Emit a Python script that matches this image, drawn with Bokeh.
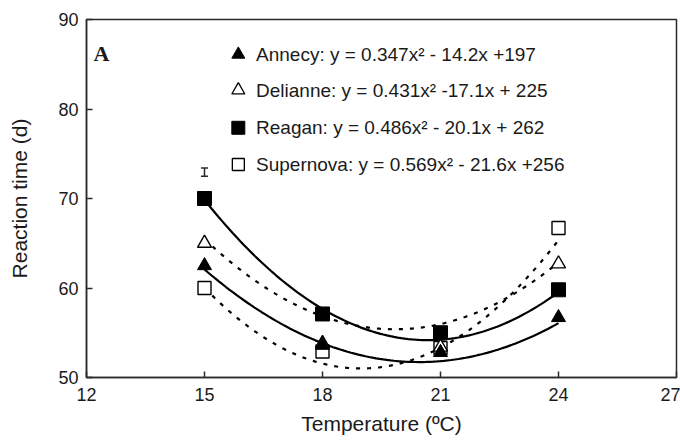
import numpy as np
from bokeh.plotting import figure
from bokeh.models import Range1d, FixedTicker
from bokeh.core.properties import value
from bokeh.embed import file_html
from bokeh.resources import INLINE

# Temperatures (ºC) and reaction times (d) for four cultivars
temps = [15, 18, 21, 24]
annecy = [62.5, 53.6, 52.8, 56.7]
delianne = [65.0, 53.8, 53.4, 62.7]
reagan = [70.0, 57.1, 55.0, 59.8]
supernova = [60.0, 52.9, 53.3, 66.7]

# Quadratic fit coefficients (a, b, c) for y = a*x^2 + b*x + c
fit_annecy = (0.347, -14.2, 197)
fit_delianne = (0.431, -17.1, 225)
fit_reagan = (0.486, -20.1, 262)
fit_supernova = (0.569, -21.6, 256)

legend_labels = [
    "Annecy: y = 0.347x² - 14.2x +197",
    "Delianne: y = 0.431x² -17.1x + 225",
    "Reagan: y = 0.486x² - 20.1x + 262",
    "Supernova: y = 0.569x² - 21.6x +256",
]

# Representative error bar
err_x = [15]
err_lo = [72.5]
err_hi = [73.4]

x_ticks = [12, 15, 18, 21, 24, 27]
y_ticks = [50, 60, 70, 80, 90]

FONT = "Liberation Sans"
INK = "#1a1a1a"
EDGE = "#2a2a2a"

p = figure(width=680, height=441, output_backend="svg", toolbar_location=None,
           x_range=Range1d(12, 27), y_range=Range1d(50, 90),
           min_border_left=86, min_border_right=4, min_border_top=19,
           min_border_bottom=64)
p.grid.visible = False
p.outline_line_color = EDGE
p.outline_line_width = 1.5
p.background_fill_color = "white"
p.border_fill_color = "white"

for ax in (p.xaxis[0], p.yaxis[0]):
    ax.axis_line_color = EDGE
    ax.axis_line_width = 1.5
    ax.major_tick_in = 6
    ax.major_tick_out = 0
    ax.major_tick_line_color = EDGE
    ax.major_tick_line_width = 1.5
    ax.minor_tick_line_color = None
    ax.major_label_text_font = FONT
    ax.major_label_text_font_size = "18px"
    ax.major_label_text_color = INK
    ax.axis_label_text_font = FONT
    ax.axis_label_text_font_size = "21px"
    ax.axis_label_text_font_style = "normal"
    ax.axis_label_text_color = INK

p.xaxis.ticker = FixedTicker(ticks=x_ticks)
p.yaxis.ticker = FixedTicker(ticks=y_ticks)
p.xaxis.axis_label = "Temperature (ºC)"
p.yaxis.axis_label = "Reaction time (d)"
p.xaxis.major_label_standoff = 10
p.yaxis.major_label_standoff = 8
p.xaxis.axis_label_standoff = 8
p.yaxis.axis_label_standoff = 24

# Fitted curves
xs = np.linspace(15, 24, 100)
curves = [
    (fit_annecy, "solid"),
    (fit_delianne, "4 7"),
    (fit_reagan, "solid"),
    (fit_supernova, "4 7"),
]
for (a, b, c), dash in curves:
    p.line(xs, a * xs ** 2 + b * xs + c, line_color="black", line_width=2.2,
           line_dash=dash)

# Data markers
p.scatter(temps, supernova, marker="square", size=13, fill_color="white",
          line_color="black", line_width=1.4)
p.scatter(temps, delianne, marker="triangle", size=14, fill_color="white",
          line_color="black", line_width=1.4)
p.scatter(temps, reagan, marker="square", size=14, fill_color="black",
          line_color="black")
p.scatter(temps, annecy, marker="triangle", size=14, fill_color="black",
          line_color="black")

# Error bar with flat caps
p.segment(x0=err_x, x1=err_x, y0=err_lo, y1=err_hi, line_color=EDGE,
          line_width=1.5)
cap_half = 0.09
p.segment(x0=[err_x[0] - cap_half] * 2, x1=[err_x[0] + cap_half] * 2,
          y0=err_lo + err_hi, y1=err_lo + err_hi, line_color=EDGE,
          line_width=1.5)

# Legend with equations
leg_x = 15.86
leg_y = [86.1, 82.1, 77.9, 73.8]
p.scatter([leg_x], [leg_y[0]], marker="triangle", size=13, fill_color="black",
          line_color="black")
p.scatter([leg_x], [leg_y[1]], marker="triangle", size=13, fill_color="white",
          line_color="black", line_width=1.3)
p.scatter([leg_x], [leg_y[2]], marker="square", size=13, fill_color="black",
          line_color="black")
p.scatter([leg_x], [leg_y[3]], marker="square", size=12, fill_color="white",
          line_color="black", line_width=1.3)
p.text([leg_x + 0.45] * 4, leg_y, text=legend_labels,
       text_font=value(FONT), text_font_size="19px", text_color=INK,
       text_baseline="middle", text_align="left")

# Panel letter
p.text([12.18], [86.2], text=["A"], text_font=value("Liberation Serif"),
       text_font_size="22px", text_font_style="bold", text_color=INK,
       text_baseline="middle", text_align="left")

open("out.html", "w").write(file_html(p, INLINE))
